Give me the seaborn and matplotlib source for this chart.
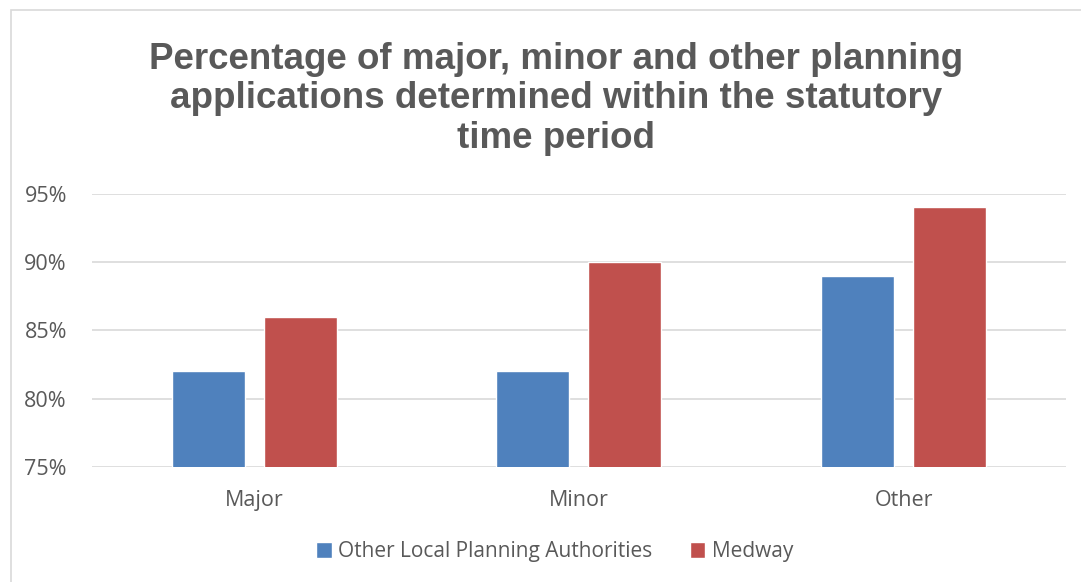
import matplotlib
matplotlib.use("Agg")
import matplotlib.pyplot as plt
import seaborn as sns
import pandas as pd
from matplotlib.patches import Rectangle
from matplotlib.ticker import FuncFormatter

categories = ["Major", "Minor", "Other"]
series_names = ["Other Local Planning Authorities", "Medway"]
other_lpa = [82, 82, 89]
medway = [86, 90, 94]
yticks = [75, 80, 85, 90, 95]
title = "Percentage of major, minor and other planning\napplications determined within the statutory\ntime period"

df = pd.DataFrame({
    "category": categories * 2,
    "series": [series_names[0]] * 3 + [series_names[1]] * 3,
    "value": other_lpa + medway,
})

sns.set_theme(style="white")
plt.rcParams["font.family"] = ["Open Sans", "DejaVu Sans"]
grey = "#595959"

fig = plt.figure(figsize=(10.81, 5.82), dpi=100)
ax = fig.add_axes([0.085, 0.198, 0.901, 0.469])

sns.barplot(data=df, x="category", y="value", hue="series",
            palette=["#4F81BD", "#C0504D"], width=0.567, gap=0.207,
            ax=ax, legend=True, saturation=1)

ax.set_ylim(75, 95)
ax.set_yticks(yticks)
ax.yaxis.set_major_formatter(FuncFormatter(lambda v, p: f"{v:.0f}%"))
ax.set_xlim(-0.5, 2.5)
ax.grid(axis="y", color="#D9D9D9", linewidth=1.2)
ax.set_axisbelow(True)
for s in ax.spines.values():
    s.set_visible(False)
ax.set_xlabel("")
ax.set_ylabel("")
ax.tick_params(axis="both", length=0, labelsize=15.5, colors=grey)
ax.tick_params(axis="x", pad=16.5)
ax.tick_params(axis="y", pad=18)

leg = ax.legend(loc="center", bbox_to_anchor=(0.513, 0.052), bbox_transform=fig.transFigure,
                ncol=2, frameon=False, fontsize=15, handlelength=0.75, handleheight=0.75,
                columnspacing=1.8, handletextpad=0.3)
for t in leg.get_texts():
    t.set_color(grey)

fig.text(0.514, 0.830, title, ha="center", va="center", fontsize=26.5, fontweight="bold",
         color=grey, family=["Liberation Sans", "DejaVu Sans"], linespacing=1.16)

fig.patches.append(Rectangle((0.0102, -0.1), 1.2, 1.083, transform=fig.transFigure,
                             fill=False, edgecolor="#D9D9D9", linewidth=1.2))

fig.savefig("out.png", dpi=100, facecolor="white")
